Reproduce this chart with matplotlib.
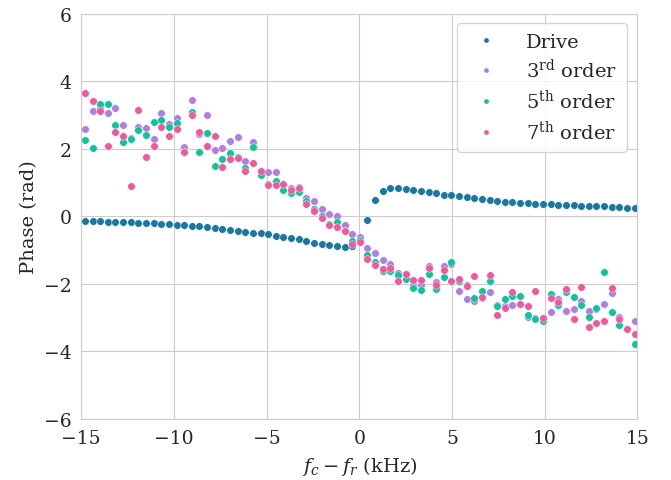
import numpy as np
import matplotlib
matplotlib.use("Agg")
import matplotlib.pyplot as plt
import seaborn as sns

sns.set_style("whitegrid")
plt.rcParams['font.family'] = ['DejaVu Serif']
plt.rcParams['mathtext.fontset'] = 'dejavuserif'

# detuning sweep (kHz)
detuning = np.linspace(-14.8, 14.85, 73)

drive = [-0.15, -0.15, -0.15, -0.16, -0.17, -0.17, -0.18, -0.19, -0.20, -0.21,
         -0.22, -0.23, -0.24, -0.25, -0.28, -0.29, -0.31, -0.34, -0.36, -0.39,
         -0.43, -0.45, -0.48, -0.50, -0.53, -0.57, -0.60, -0.64, -0.68, -0.73,
         -0.78, -0.82, -0.86, -0.89, -0.90, -0.88, -0.70, -0.12, 0.50, 0.75,
         0.83, 0.84, 0.82, 0.79, 0.75, 0.71, 0.68, 0.64, 0.62, 0.59,
         0.57, 0.55, 0.51, 0.49, 0.47, 0.44, 0.43, 0.41, 0.39, 0.38,
         0.37, 0.37, 0.35, 0.34, 0.33, 0.32, 0.31, 0.31, 0.30, 0.29,
         0.27, 0.26, 0.25]

order3 = [2.59, 3.11, 3.21, 3.05, 3.21, 2.71, 2.33, 2.64, 2.63, 2.28,
          3.06, 2.74, 2.93, 2.05, 3.45, 2.44, 2.99, 1.97, 2.03, 2.22,
          2.36, 1.65, 2.19, 1.36, 1.33, 1.33, 0.97, 0.84, 0.86, 0.54,
          0.47, 0.22, 0.07, 0.01, -0.25, -0.52, -0.60, -0.94, -1.07, -1.30,
          -1.41, -1.67, -1.72, -2.02, -2.02, -1.46, -1.95, -1.48, -1.41, -2.20,
          -2.44, -2.51, -2.41, -2.23, -2.62, -2.64, -2.63, -2.59, -2.98, -3.01,
          -3.04, -2.83, -2.46, -2.79, -2.75, -2.50, -2.79, -2.75, -2.59, -2.28,
          -2.98, -3.34, -3.09]

order5 = [2.26, 2.02, 3.33, 3.33, 2.71, 2.19, 2.29, 2.55, 2.41, 2.80,
          2.87, 2.64, 2.76, 1.92, 3.09, 1.92, 2.47, 1.48, 1.70, 1.88,
          1.77, 1.43, 2.06, 1.24, 0.97, 1.05, 0.79, 0.69, 0.72, 0.47,
          0.21, 0.02, -0.22, -0.16, -0.43, -0.73, -0.69, -1.13, -1.36, -1.61,
          -1.62, -1.75, -1.85, -2.11, -2.17, -1.72, -2.15, -1.81, -1.34, -1.90,
          -2.02, -2.41, -2.22, -1.92, -2.66, -2.46, -2.37, -2.35, -2.91, -3.03,
          -3.11, -2.31, -2.63, -2.25, -2.38, -2.62, -2.97, -2.72, -1.66, -2.84,
          -3.22, -3.33, -3.79]

order7 = [3.65, 3.43, 3.13, 2.08, 2.50, 2.38, 0.90, 3.16, 1.77, 2.10,
          2.65, 2.38, 2.59, 1.90, 2.99, 2.51, 2.09, 2.39, 1.45, 1.70,
          1.72, 1.36, 1.59, 1.34, 0.93, 0.93, 0.95, 0.79, 0.84, 0.38,
          0.17, -0.04, -0.24, -0.31, -0.43, -0.83, -0.75, -1.25, -1.43, -1.56,
          -1.53, -1.92, -1.70, -1.88, -1.88, -1.53, -2.03, -1.59, -1.92, -1.85,
          -2.07, -1.77, -2.39, -1.73, -2.93, -2.72, -2.24, -2.59, -2.66, -2.22,
          -3.02, -2.42, -2.53, -2.14, -3.03, -2.09, -3.28, -3.16, -3.09, -2.12,
          -3.04, -3.33, -3.49]

series = [
    (drive, "Drive", "#1a78a0"),
    (order3, r"3$^{\mathrm{rd}}$ order", "#b07fe0"),
    (order5, r"5$^{\mathrm{th}}$ order", "#0fc39c"),
    (order7, r"7$^{\mathrm{th}}$ order", "#ef5b9a"),
]

fig = plt.figure(figsize=(6.71, 4.81), dpi=100)
ax = fig.add_axes([0.121, 0.127, 0.829, 0.842])

for y, label, color in series:
    ax.plot(detuning, y, "o", ms=5.4, color=color, mec="white", mew=0.3,
            label=label)

ax.set_xlim(-15, 15)
ax.set_ylim(-6, 6)
ax.set_xticks([-15, -10, -5, 0, 5, 10, 15])
ax.set_yticks([-6, -4, -2, 0, 2, 4, 6])
ax.tick_params(labelsize=13.5)
ax.set_xlabel(r"$f_c - f_r$ (kHz)", fontsize=14, labelpad=5)
ax.set_ylabel("Phase (rad)", fontsize=14, labelpad=4)
ax.legend(loc="upper right", bbox_to_anchor=(0.981, 0.978), borderaxespad=0,
          fontsize=14, markerscale=0.7, handletextpad=1.05, borderpad=0.5,
          labelspacing=0.38)

fig.savefig("out.png", dpi=100)
